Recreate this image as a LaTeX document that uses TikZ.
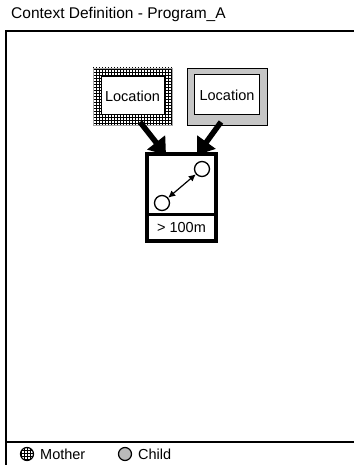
\documentclass[tikz,border=0pt]{standalone}
\usepackage{fontspec}
\setmainfont{Liberation Sans}
\usetikzlibrary{patterns,arrows.meta}
\begin{document}
\begin{tikzpicture}[x=1pt,y=-1pt,
  txt/.style={font=\fontsize{14.5}{17}\selectfont},
  inbox/.style={draw=black,line width=1pt,fill=white,minimum width=63pt,minimum height=38pt,inner sep=0pt},
  bigarrow/.style={line width=5.5pt,-{Triangle[length=16pt,width=22pt]}},
  dot/.style={circle,draw=black,line width=1.3pt,fill=white,minimum size=15pt,inner sep=0pt}]
\useasboundingbox (0,0) rectangle (353,465);
\node[font=\fontsize{15.5}{18}\selectfont,anchor=base west,inner sep=0pt] (title) at (11,19) {Context Definition - Program\_A};
\draw[line width=1.6pt] (6,480) -- (6,31) -- (360,31);
\draw[line width=1.6pt] (6,442) -- (360,442);
% left box
\draw[draw=gray!70,pattern=grid] (93,68) rectangle (172,125);
\node[inbox,txt] (locA) at (132.5,96) {Location};
% right box
\draw[draw=black,fill=gray!45] (187,68) rectangle (267,125);
\node[inbox,txt,minimum width=65pt,minimum height=40pt] (locB) at (227,95) {Location};
% middle box
\draw[line width=4pt,fill=white] (147,154) rectangle (216,241);
\draw[line width=3pt] (147,214) -- (216,214);
\node[txt] (dist) at (181.5,228) {> 100m};
\node[dot] (c1) at (202,169) {};
\node[dot] (c2) at (162,203) {};
\draw[line width=1.2pt,{Latex[length=7pt,width=7pt]}-{Latex[length=7pt,width=7pt]}] (c2) -- (c1);
\coordinate (tA) at (166,155);
\coordinate (tB) at (197,155);
\coordinate (sA) at (140,122);
\coordinate (sB) at (221,122);
\draw[bigarrow] (sA) -- (tA);
\draw[bigarrow] (sB) -- (tB);
% legend
\node[circle,draw=black,line width=1.2pt,pattern=grid,minimum size=13pt,inner sep=0pt] (lm) at (27,454) {};
\node[txt,anchor=west,inner sep=0pt] (lmt) at (40,454) {Mother};
\node[circle,draw=black,line width=1.2pt,fill=gray!55,minimum size=13pt,inner sep=0pt] (lc) at (125,454) {};
\node[txt,anchor=west,inner sep=0pt] (lct) at (138,454) {Child};
\end{tikzpicture}
\end{document}
